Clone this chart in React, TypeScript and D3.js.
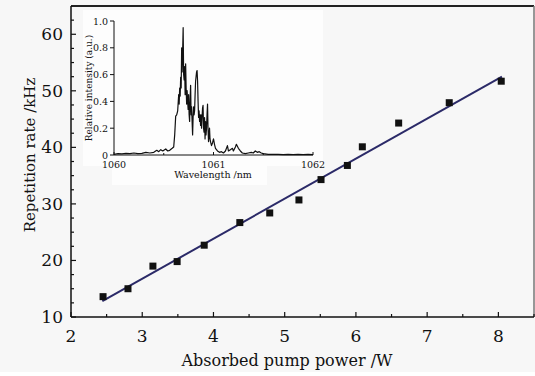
import * as d3 from 'd3'

// main plot: pump power (W) vs repetition rate (kHz)
const powerW = [2.45, 2.8, 3.15, 3.49, 3.87, 4.37, 4.79, 5.2, 5.51, 5.88, 6.09, 6.6, 7.31, 8.04]
const repRate = [13.6, 15.0, 19.0, 19.8, 22.7, 26.7, 28.4, 30.7, 34.3, 36.8, 40.1, 44.3, 47.9, 51.7]
// linear fit endpoints
const fitX = [2.44, 8.05]
const fitY = [12.8, 52.5]

const xTicks = [2, 3, 4, 5, 6, 7, 8]
const yTicks = [10, 20, 30, 40, 50, 60]

// inset spectrum
const wavelength = [
  1060.0, 1060.04, 1060.08, 1060.12, 1060.16, 1060.2, 1060.24, 1060.28, 1060.32, 1060.36,
  1060.4, 1060.43, 1060.45, 1060.47, 1060.49, 1060.52, 1060.54, 1060.56, 1060.585, 1060.6,
  1060.61, 1060.62, 1060.63, 1060.64, 1060.65, 1060.655, 1060.66, 1060.665, 1060.67, 1060.675,
  1060.68, 1060.685, 1060.69, 1060.695, 1060.7, 1060.705, 1060.71, 1060.715, 1060.72, 1060.725,
  1060.73, 1060.735, 1060.74, 1060.745, 1060.75, 1060.755, 1060.76, 1060.765, 1060.77, 1060.775,
  1060.78, 1060.785, 1060.79, 1060.795, 1060.8, 1060.805, 1060.81, 1060.815, 1060.82, 1060.83,
  1060.835, 1060.84, 1060.845, 1060.85, 1060.855, 1060.86, 1060.865, 1060.87, 1060.875, 1060.88,
  1060.885, 1060.89, 1060.895, 1060.9, 1060.905, 1060.91, 1060.915, 1060.92, 1060.925, 1060.93,
  1060.935, 1060.94, 1060.945, 1060.95, 1060.96, 1060.965, 1060.97, 1060.98, 1060.99, 1061.0,
  1061.01, 1061.02, 1061.04, 1061.06, 1061.08, 1061.1, 1061.12, 1061.14, 1061.15, 1061.17,
  1061.19, 1061.2, 1061.22, 1061.23, 1061.25, 1061.27, 1061.29, 1061.32, 1061.35, 1061.38,
  1061.4, 1061.42, 1061.44, 1061.46, 1061.48, 1061.5, 1061.55, 1061.6, 1061.65, 1061.7,
  1061.75, 1061.8, 1061.85, 1061.9, 1061.95, 1062.0,
]
const intensity = [
  0.005, 0.01, 0.008, 0.012, 0.01, 0.015, 0.01, 0.012, 0.02, 0.015,
  0.02, 0.035, 0.025, 0.04, 0.03, 0.045, 0.03, 0.035, 0.05, 0.06,
  0.15, 0.29, 0.3, 0.33, 0.45, 0.38, 0.5, 0.44, 0.58, 0.5,
  0.8, 0.62, 0.78, 0.95, 0.6, 0.56, 0.66, 0.45, 0.68, 0.5,
  0.38, 0.48, 0.4, 0.34, 0.45, 0.3, 0.25, 0.42, 0.52, 0.3,
  0.36, 0.25, 0.15, 0.28, 0.36, 0.3, 0.33, 0.45, 0.55, 0.62,
  0.63, 0.55, 0.4, 0.28, 0.33, 0.25, 0.3, 0.22, 0.3, 0.2,
  0.28, 0.35, 0.37, 0.2, 0.17, 0.28, 0.12, 0.25, 0.15, 0.2,
  0.3, 0.38, 0.2, 0.1, 0.2, 0.12, 0.1, 0.07, 0.09, 0.12,
  0.08, 0.05, 0.03, 0.02, 0.025, 0.015, 0.03, 0.07, 0.03, 0.04,
  0.05, 0.03, 0.06, 0.08, 0.05, 0.03, 0.015, 0.01, 0.015, 0.02,
  0.015, 0.03, 0.02, 0.025, 0.015, 0.01, 0.005, 0.004, 0.005, 0.003,
  0.004, 0.003, 0.005, 0.003, 0.004, 0.003,
]
const insetXTicks = [1060, 1061, 1062]
const insetYTicks = [0, 0.2, 0.4, 0.6, 0.8, 1.0]

const W = 535
const H = 376
const FONT = 'DejaVu Serif'

export default function App() {
  const left = 71, right = 534, top = 6, bottom = 317
  const x = d3.scaleLinear().domain([2, 8.5]).range([left, right])
  const y = d3.scaleLinear().domain([10, 65]).range([bottom, top])

  const ix = d3.scaleLinear().domain([1060, 1062]).range([114, 313])
  const iy = d3.scaleLinear().domain([0, 1]).range([155, 21])

  const xMinor = d3.range(2.5, 8.51, 0.5).filter((v) => !xTicks.includes(v))
  const yMinor = d3.range(12.5, 65, 2.5).filter((v) => !yTicks.includes(v))

  const spec = wavelength.map((w, i) => [w, intensity[i]] as [number, number])
  const specLine = d3.line<[number, number]>().x((d) => ix(d[0])).y((d) => iy(d[1]))

  return (
    <div style={{ position: 'fixed', left: 0, top: 0, background: '#fff' }}>
      <svg width={W} height={H} style={{ display: 'block', fontFamily: FONT }}>
        <rect width={W} height={372} fill="#f7f7f7" />

        {/* inset background */}
        <rect x={83} y={10} width={240} height={156} fill="#fdfdfd" />
        <rect x={112} y={160} width={155} height={25} fill="#fdfdfd" />

        {/* fit line */}
        <line x1={x(fitX[0])} y1={y(fitY[0])} x2={x(fitX[1])} y2={y(fitY[1])}
          stroke="#2b2a68" strokeWidth={2} />

        {/* points */}
        {powerW.map((p, i) => (
          <rect key={i} x={x(p) - 3.5} y={y(repRate[i]) - 3.5} width={7} height={7} fill="#111" />
        ))}

        {/* frame */}
        <line x1={left} y1={top} x2={right} y2={top} stroke="#222" strokeWidth={2} />
        <line x1={right} y1={top} x2={right} y2={bottom} stroke="#777" strokeWidth={1.5} />
        <line x1={left} y1={top} x2={left} y2={bottom} stroke="#111" strokeWidth={1.5} />
        <line x1={left} y1={bottom} x2={right} y2={bottom} stroke="#111" strokeWidth={1.5} />

        {/* x ticks */}
        {xTicks.map((t) => (
          <g key={t}>
            <line x1={x(t)} x2={x(t)} y1={bottom} y2={bottom - 5} stroke="#111" strokeWidth={1.2} />
            <text x={x(t)} y={342} fontSize={17} textAnchor="middle" fill="#111">{t}</text>
          </g>
        ))}
        {xMinor.map((t) => (
          <line key={t} x1={x(t)} x2={x(t)} y1={bottom} y2={bottom - 3} stroke="#111" strokeWidth={1.2} />
        ))}

        {/* y ticks */}
        {yTicks.map((t) => (
          <g key={t}>
            <line x1={left} x2={left + 5} y1={y(t)} y2={y(t)} stroke="#111" strokeWidth={1.2} />
            <text x={63} y={y(t) + 6} fontSize={17} textAnchor="end" fill="#111">{t}</text>
          </g>
        ))}
        {yMinor.map((t) => (
          <line key={t} x1={left} x2={left + 3} y1={y(t)} y2={y(t)} stroke="#111" strokeWidth={1.2} />
        ))}

        <text x={287} y={366} fontSize={16} textAnchor="middle" fill="#111">
          Absorbed pump power /W
        </text>
        <text transform={`translate(35,155) rotate(-90)`} fontSize={15} textAnchor="middle" fill="#111">
          Repetition rate /kHz
        </text>

        {/* inset */}
        <path d={specLine(spec) ?? ''} fill="none" stroke="#111" strokeWidth={1.2} strokeLinejoin="round" />
        <line x1={ix(1060)} x2={ix(1062)} y1={iy(0)} y2={iy(0)} stroke="#111" strokeWidth={1} />
        <line x1={ix(1060)} x2={ix(1060)} y1={iy(0)} y2={iy(1)} stroke="#111" strokeWidth={1} />
        {insetXTicks.map((t) => (
          <g key={t}>
            <line x1={ix(t)} x2={ix(t)} y1={iy(0)} y2={iy(0) - 3} stroke="#111" />
            <text x={ix(t)} y={168} fontSize={9.5} textAnchor="middle" fill="#111">{t}</text>
          </g>
        ))}
        {[1060.5, 1061.5].map((t) => (
          <line key={t} x1={ix(t)} x2={ix(t)} y1={iy(0)} y2={iy(0) - 2} stroke="#111" />
        ))}
        {insetYTicks.map((t) => (
          <g key={t}>
            <line x1={ix(1060) - 4} x2={ix(1060)} y1={iy(t)} y2={iy(t)} stroke="#111" />
            <text x={108} y={iy(t) + 3.5} fontSize={9.5} textAnchor="end" fill="#111">
              {t === 0 ? '0' : t.toFixed(1)}
            </text>
          </g>
        ))}
        <text x={213} y={178} fontSize={9.5} textAnchor="middle" fill="#111">Wavelength /nm</text>
        <text transform="translate(92,88) rotate(-90)" fontSize={9} textAnchor="middle" fill="#111">
          Relative intensity (a.u.)
        </text>
      </svg>
    </div>
  )
}
